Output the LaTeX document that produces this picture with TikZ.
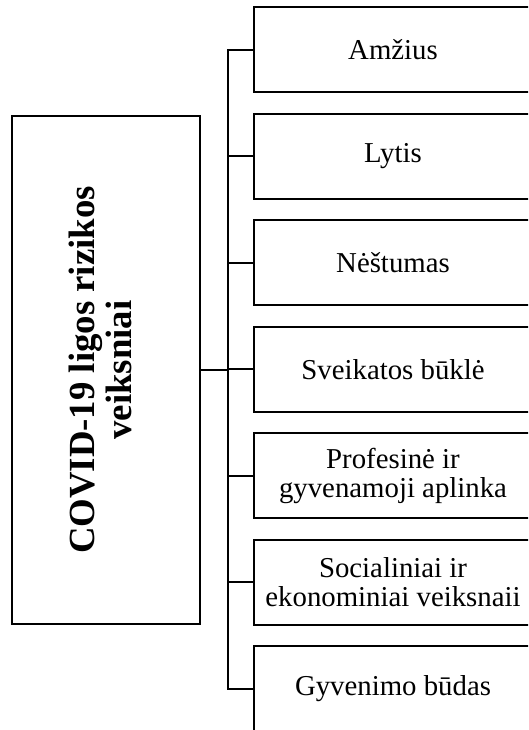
\documentclass[tikz,border=0pt]{standalone}
\usepackage{fontspec}
\setmainfont{Liberation Serif}
\usetikzlibrary{positioning}

\begin{document}
\begin{tikzpicture}[
        x=1pt, y=1pt,
        % boxes 85pt tall, 21.5pt gap between them
        node distance=21.5pt,
        line width=2.2pt
    ]
        % Define node styles
        \tikzstyle{factor}=[
            draw,
            outer sep=0pt,
            inner sep=4pt,
            align=center,
            minimum width=278pt,
            minimum height=85pt,
            font=\fontsize{28.8}{29}\selectfont
        ]
        \tikzstyle{mainbox}=[
            draw,
            outer sep=0pt,
            minimum width=188pt,
            minimum height=508pt,
            font=\bfseries\fontsize{36.8}{37}\selectfont
        ]

        \useasboundingbox (0,0) rectangle (528,730);
        \clip (0,0) rectangle (528,730);

        % --- Left box (title turned upright) ---
        \node[mainbox] (covid) at (106,360)
            {\rotatebox{90}{\begin{tabular}{@{}c@{}}COVID-19 ligos rizikos\\veiksniai\end{tabular}}};

        % --- Right column of factors ---
        \node[factor] (age) at (393,680.2) {Amžius};
        \node[factor, below=of age] (sex) {Lytis};
        \node[factor, below=of sex] (preg) {Nėštumas};
        \node[factor, below=of preg] (health) {Sveikatos būklė};
        \node[factor, below=of health] (env) {Profesinė ir\\gyvenamoji aplinka};
        \node[factor, below=of env] (socio) {Socialiniai ir\\ekonominiai veiksnaii};
        \node[factor, below=of socio] (life) {Gyvenimo būdas};

        % --- Connectors ---
        \coordinate (trunk) at (228,360);
        \draw (covid.east) -- (trunk);
        \draw (age.west) -| (trunk) |- (life.west);
        \foreach \f in {sex,preg,health,env,socio}
            \draw (\f.west) -- (\f.west -| trunk);

    \end{tikzpicture}
\end{document}
